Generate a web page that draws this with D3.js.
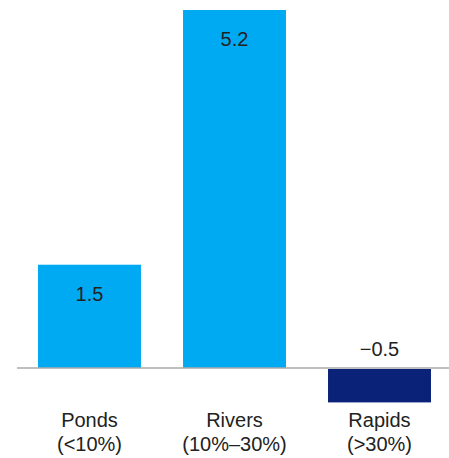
<!DOCTYPE html>
<html>
<head>
<meta charset="utf-8">
<script src="https://cdn.jsdelivr.net/npm/d3@7"></script>
<style>
  html, body { margin: 0; padding: 0; background: #fff; }
  svg { display: block; }
  text { font-family: "Liberation Sans", Arial, Helvetica, sans-serif; fill: #222; }
</style>
</head>
<body>
<div id="chart"></div>
<script>
// Category names (two-line labels) and values
const categories = ["Ponds", "Rivers", "Rapids"];
const subLabels = ["(<10%)", "(10%–30%)", "(>30%)"];
const values = [1.5, 5.2, -0.5];
const valueLabels = ["1.5", "5.2", "\u22120.5"];

const W = 449, H = 458;
const svg = d3.select("#chart").append("svg")
  .attr("width", W).attr("height", H);

const x = d3.scaleBand()
  .domain(categories)
  .range([17, 452])
  .paddingInner(0.29)
  .paddingOuter(0.145);

const y = d3.scaleLinear()
  .domain([-0.5, 5.2])
  .range([402.4, 10]);

const data = categories.map((c, i) => ({ c, v: values[i], lab: valueLabels[i], sub: subLabels[i] }));

// Bars
svg.selectAll("rect.bar")
  .data(data)
  .join("rect")
  .attr("class", "bar")
  .attr("x", d => x(d.c))
  .attr("width", x.bandwidth())
  .attr("y", d => d.v >= 0 ? y(d.v) : y(0) + 1)
  .attr("height", d => d.v >= 0 ? y(0) - y(d.v) : y(d.v) - y(0) - 1)
  .attr("fill", d => d.v >= 0 ? "#00aaf3" : "#0a2277");

// Zero line
svg.append("line")
  .attr("x1", 17).attr("x2", W)
  .attr("y1", y(0)).attr("y2", y(0))
  .attr("stroke", "#aaaaaa")
  .attr("stroke-width", 1.5);

// Value labels: inside the top of positive bars, above the line for negatives
svg.selectAll("text.val")
  .data(data)
  .join("text")
  .attr("class", "val")
  .attr("x", d => x(d.c) + x.bandwidth() / 2)
  .attr("y", d => d.v >= 0 ? y(d.v) + 36 : y(0) - 12)
  .attr("text-anchor", "middle")
  .attr("font-size", 20)
  .text(d => d.lab);

// Category labels
const cat = svg.selectAll("text.cat")
  .data(data)
  .join("text")
  .attr("class", "cat")
  .attr("text-anchor", "middle")
  .attr("font-size", 20)
  .attr("x", d => x(d.c) + x.bandwidth() / 2)
  .attr("y", 427);
cat.append("tspan").text(d => d.c);
cat.append("tspan")
  .attr("x", d => x(d.c) + x.bandwidth() / 2)
  .attr("dy", 24)
  .text(d => d.sub);
</script>
</body>
</html>
